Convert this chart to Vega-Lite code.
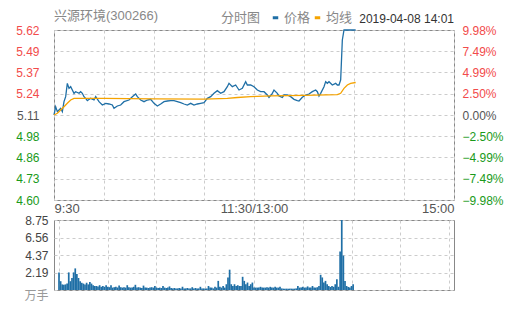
{
  "$schema": "https://vega.github.io/schema/vega-lite/v6.json",
  "background": "white",
  "padding": {"left": 15, "top": 10, "right": 2, "bottom": 2},
  "title": {"text": "兴源环境(300266)", "anchor": "start", "frame": "group", "fontSize": 13, "fontWeight": "normal", "color": "#888888", "font": "Liberation Sans, Noto Sans CJK SC", "dy": 16},
  "config": {
    "font": "Liberation Sans, Noto Sans CJK SC",
    "view": {"stroke": "#888888", "strokeWidth": 1},
    "axis": {"domain": false, "ticks": false, "gridColor": "#cccccc", "gridDash": [3, 3], "labelFont": "Liberation Sans, Noto Sans CJK SC", "labelFontSize": 12, "title": null}
  },
  "datasets": {
    "price": [
      {"m":0,"p":5.11},{"m":1,"p":5.16},{"m":2,"p":5.13},{"m":3,"p":5.14},{"m":4,"p":5.15},{"m":5,"p":5.13},{"m":6,"p":5.19},{"m":7,"p":5.22},{"m":8,"p":5.30},{"m":9,"p":5.27},{"m":10,"p":5.28},{"m":11,"p":5.26},{"m":12,"p":5.24},{"m":13,"p":5.25},{"m":14,"p":5.245},{"m":15,"p":5.24},{"m":16,"p":5.25},{"m":17,"p":5.24},{"m":18,"p":5.22},{"m":19,"p":5.21},{"m":20,"p":5.196},{"m":22,"p":5.21},{"m":24,"p":5.20},{"m":25,"p":5.22},{"m":27,"p":5.19},{"m":29,"p":5.17},{"m":31,"p":5.18},{"m":33,"p":5.176},{"m":35,"p":5.17},{"m":36,"p":5.15},{"m":38,"p":5.164},{"m":40,"p":5.17},{"m":42,"p":5.19},{"m":45,"p":5.20},{"m":47,"p":5.22},{"m":49,"p":5.236},{"m":50,"p":5.22},{"m":52,"p":5.20},{"m":54,"p":5.19},{"m":56,"p":5.20},{"m":58,"p":5.204},{"m":60,"p":5.18},{"m":62,"p":5.164},{"m":64,"p":5.176},{"m":66,"p":5.19},{"m":68,"p":5.194},{"m":70,"p":5.196},{"m":72,"p":5.196},{"m":74,"p":5.19},{"m":76,"p":5.184},{"m":78,"p":5.176},{"m":80,"p":5.17},{"m":82,"p":5.18},{"m":84,"p":5.17},{"m":86,"p":5.176},{"m":88,"p":5.18},{"m":90,"p":5.184},{"m":92,"p":5.21},{"m":94,"p":5.22},{"m":96,"p":5.24},{"m":98,"p":5.256},{"m":100,"p":5.24},{"m":102,"p":5.25},{"m":104,"p":5.28},{"m":105,"p":5.30},{"m":107,"p":5.28},{"m":109,"p":5.29},{"m":111,"p":5.26},{"m":113,"p":5.27},{"m":115,"p":5.31},{"m":116,"p":5.29},{"m":118,"p":5.29},{"m":120,"p":5.28},{"m":122,"p":5.26},{"m":124,"p":5.25},{"m":126,"p":5.25},{"m":128,"p":5.23},{"m":129,"p":5.216},{"m":131,"p":5.24},{"m":132,"p":5.26},{"m":134,"p":5.24},{"m":135,"p":5.224},{"m":137,"p":5.216},{"m":138,"p":5.23},{"m":140,"p":5.23},{"m":142,"p":5.22},{"m":144,"p":5.204},{"m":146,"p":5.196},{"m":147,"p":5.194},{"m":149,"p":5.216},{"m":151,"p":5.23},{"m":153,"p":5.236},{"m":155,"p":5.25},{"m":157,"p":5.26},{"m":158,"p":5.25},{"m":159,"p":5.224},{"m":160,"p":5.24},{"m":162,"p":5.28},{"m":163,"p":5.31},{"m":164,"p":5.30},{"m":165,"p":5.31},{"m":167,"p":5.29},{"m":169,"p":5.30},{"m":170,"p":5.29},{"m":171,"p":5.29},{"m":172,"p":5.32},{"m":173,"p":5.56},{"m":174,"p":5.62},{"m":181,"p":5.62}
    ],
    "avg": [
      {"m":0,"a":5.11},{"m":2,"a":5.12},{"m":4,"a":5.14},{"m":6,"a":5.16},{"m":8,"a":5.18},{"m":10,"a":5.20},{"m":12,"a":5.21},{"m":30,"a":5.21},{"m":60,"a":5.207},{"m":90,"a":5.205},{"m":104,"a":5.21},{"m":110,"a":5.215},{"m":118,"a":5.22},{"m":130,"a":5.225},{"m":150,"a":5.228},{"m":170,"a":5.232},{"m":172,"a":5.24},{"m":174,"a":5.27},{"m":176,"a":5.29},{"m":178,"a":5.30},{"m":181,"a":5.305}
    ],
    "vol": [
      {"m":0,"v":2.2},{"m":1,"v":1.1},{"m":2,"v":0.7},{"m":3,"v":0.65},{"m":4,"v":0.7},{"m":5,"v":0.8},{"m":6,"v":2.2},{"m":7,"v":1.1},{"m":8,"v":1.5},{"m":9,"v":2.2},{"m":10,"v":2.7},{"m":11,"v":2.0},{"m":12,"v":1.5},{"m":13,"v":1.1},{"m":14,"v":0.9},{"m":15,"v":0.8},{"m":16,"v":0.7},{"m":17,"v":0.9},{"m":18,"v":0.7},{"m":19,"v":1.0},{"m":20,"v":0.8},{"m":21,"v":0.6},{"m":22,"v":0.5},{"m":23,"v":0.5},{"m":24,"v":0.45},{"m":25,"v":0.6},{"m":26,"v":0.4},{"m":27,"v":0.5},{"m":28,"v":0.4},{"m":29,"v":0.6},{"m":30,"v":0.4},
      {"m":31,"v":0.35},{"m":32,"v":0.6},{"m":33,"v":0.3},{"m":34,"v":0.35},{"m":35,"v":0.4},{"m":36,"v":0.3},{"m":37,"v":0.55},{"m":38,"v":0.35},{"m":39,"v":0.3},{"m":40,"v":0.35},{"m":41,"v":0.3},{"m":42,"v":0.6},{"m":43,"v":0.35},{"m":44,"v":0.3},{"m":45,"v":0.3},{"m":46,"v":0.4},{"m":47,"v":0.65},{"m":48,"v":0.3},{"m":49,"v":0.35},{"m":50,"v":0.3},{"m":51,"v":0.25},{"m":52,"v":0.55},{"m":53,"v":0.3},{"m":54,"v":0.3},{"m":55,"v":0.25},{"m":56,"v":0.3},{"m":57,"v":0.35},{"m":58,"v":0.3},{"m":59,"v":0.5},{"m":60,"v":0.3},{"m":61,"v":0.25},{"m":62,"v":0.3},{"m":63,"v":0.25},{"m":64,"v":0.5},{"m":65,"v":0.3},{"m":66,"v":0.25},{"m":67,"v":0.3},{"m":68,"v":0.45},{"m":69,"v":0.25},{"m":70,"v":0.2},{"m":71,"v":0.25},{"m":72,"v":0.2},{"m":73,"v":0.2},{"m":74,"v":0.25},{"m":75,"v":0.2},{"m":76,"v":0.4},{"m":77,"v":0.2},{"m":78,"v":0.2},{"m":79,"v":0.25},{"m":80,"v":0.2},{"m":81,"v":0.2},{"m":82,"v":0.35},{"m":83,"v":0.2},{"m":84,"v":0.25},{"m":85,"v":0.2},{"m":86,"v":0.2},{"m":87,"v":0.4},{"m":88,"v":0.2},{"m":89,"v":0.2},
      {"m":90,"v":0.17},{"m":91,"v":0.2},{"m":92,"v":0.5},{"m":93,"v":0.3},{"m":94,"v":0.3},{"m":95,"v":0.2},{"m":96,"v":0.4},{"m":97,"v":0.3},{"m":98,"v":1.14},{"m":99,"v":0.4},{"m":100,"v":0.3},{"m":101,"v":0.5},{"m":102,"v":0.3},{"m":103,"v":0.72},{"m":104,"v":1.57},{"m":105,"v":2.54},{"m":106,"v":0.72},{"m":107,"v":0.5},{"m":108,"v":0.72},{"m":109,"v":0.5},{"m":110,"v":0.6},{"m":111,"v":0.5},{"m":112,"v":0.5},{"m":113,"v":1.65},{"m":114,"v":1.14},{"m":115,"v":0.72},{"m":116,"v":0.93},{"m":117,"v":0.5},{"m":118,"v":0.72},{"m":119,"v":0.93},{"m":120,"v":0.3},
      {"m":121,"v":0.3},{"m":122,"v":0.3},{"m":123,"v":0.3},{"m":124,"v":0.4},{"m":125,"v":0.3},{"m":126,"v":0.3},{"m":127,"v":0.3},{"m":128,"v":0.35},{"m":129,"v":0.3},{"m":130,"v":0.4},{"m":131,"v":0.3},{"m":132,"v":0.3},{"m":133,"v":0.4},{"m":134,"v":0.3},{"m":135,"v":0.3},{"m":136,"v":0.4},{"m":137,"v":0.2},{"m":138,"v":0.17},{"m":139,"v":0.17},{"m":140,"v":0.17},{"m":141,"v":0.17},{"m":142,"v":0.17},{"m":143,"v":0.17},{"m":144,"v":0.17},{"m":145,"v":0.17},{"m":146,"v":0.2},{"m":147,"v":0.5},{"m":148,"v":0.3},{"m":149,"v":0.3},{"m":150,"v":0.4},{"m":151,"v":0.3},{"m":152,"v":0.3},{"m":153,"v":0.45},{"m":154,"v":0.3},{"m":155,"v":0.3},{"m":156,"v":0.5},{"m":157,"v":0.3},{"m":158,"v":0.3},{"m":159,"v":0.35},{"m":160,"v":0.5},{"m":161,"v":1.9},{"m":162,"v":1.57},{"m":163,"v":0.93},{"m":164,"v":1.14},{"m":165,"v":0.72},{"m":166,"v":0.5},{"m":167,"v":0.38},{"m":168,"v":0.5},{"m":169,"v":0.4},{"m":170,"v":0.72},{"m":171,"v":1.35},{"m":172,"v":0.4},{"m":173,"v":4.8},{"m":174,"v":8.75},{"m":175,"v":4.3},{"m":176,"v":1.14},{"m":177,"v":0.5},{"m":178,"v":0.38},{"m":179,"v":0.3},{"m":180,"v":0.5},{"m":181,"v":0.72}
    ]
  },
  "vconcat": [
    {
      "width": 400,
      "height": 170,
      "title": {"text": "2019-04-08 14:01", "anchor": "end", "frame": "group", "fontSize": 12, "fontWeight": "normal", "color": "#333333", "offset": -2},
      "layer": [
        {
          "data": {"name": "price"},
          "mark": {"type": "line", "strokeWidth": 1.3},
          "encoding": {
            "x": {"field": "m", "type": "quantitative", "scale": {"domain": [0, 240], "nice": false, "zero": false},
              "axis": {"values": [0, 30, 60, 90, 120, 150, 180, 210, 240], "grid": true, "labelFlush": true, "labelPadding": 2, "labelColor": "#555555", "labelFontSize": 13,
                "labelExpr": "datum.value == 0 ? '9:30' : datum.value == 120 ? '11:30/13:00' : datum.value == 240 ? '15:00' : ''"}},
            "y": {"field": "p", "type": "quantitative", "scale": {"domain": [4.6, 5.62], "nice": false, "zero": false},
              "axis": {"orient": "left", "values": [4.6, 4.7275, 4.855, 4.9825, 5.11, 5.2375, 5.365, 5.4925, 5.62], "grid": true, "labelPadding": 15,
                "labelExpr": "format(datum.value + 0.0001, '.2f')",
                "labelColor": {"condition": [{"test": "datum.value > 5.111", "value": "#f24b4b"}, {"test": "datum.value < 5.109", "value": "#1a9a1a"}], "value": "#555555"}}},
            "color": {"datum": "价格", "type": "nominal", "scale": {"domain": ["价格", "均线"], "range": ["#1f6fa6", "#f5a300"]},
              "legend": {"orient": "none", "legendX": 167, "legendY": -19, "direction": "horizontal", "title": "分时图", "titleOrient": "left", "titleFontSize": 13, "titleFontWeight": "normal", "titleColor": "#888888", "labelFontSize": 13, "labelColor": "#888888", "symbolType": "stroke", "symbolStrokeWidth": 3, "symbolSize": 30, "columnPadding": -3, "titlePadding": 8, "labelOffset": 2}}
          }
        },
        {
          "data": {"name": "avg"},
          "mark": {"type": "line", "strokeWidth": 1.3},
          "encoding": {
            "x": {"field": "m", "type": "quantitative", "scale": {"domain": [0, 240], "nice": false, "zero": false},
              "axis": {"values": [0, 30, 60, 90, 120, 150, 180, 210, 240], "grid": true, "labelFlush": true, "labelPadding": 2, "labelColor": "#555555", "labelFontSize": 13,
                "labelExpr": "datum.value == 0 ? '9:30' : datum.value == 120 ? '11:30/13:00' : datum.value == 240 ? '15:00' : ''"}},
            "y": {"field": "a", "type": "quantitative", "scale": {"domain": [4.6, 5.62], "nice": false, "zero": false},
              "axis": {"orient": "right", "values": [4.6, 4.7275, 4.855, 4.9825, 5.11, 5.2375, 5.365, 5.4925, 5.62], "grid": false, "labelPadding": 8,
                "labelExpr": "format((datum.value - 5.11) / 5.11 * 100, '.2f') + '%'",
                "labelColor": {"condition": [{"test": "datum.value > 5.111", "value": "#f24b4b"}, {"test": "datum.value < 5.109", "value": "#1a9a1a"}], "value": "#555555"}}},
            "color": {"datum": "均线", "type": "nominal"}
          }
        }
      ],
      "resolve": {"axis": {"y": "independent"}}
    },
    {
      "width": 400,
      "height": 70,
      "data": {"name": "vol"},
      "mark": {"type": "bar", "size": 1.7, "color": "#1f6fa6"},
      "encoding": {
        "x": {"field": "m", "type": "quantitative", "scale": {"domain": [0, 240], "nice": false, "zero": false},
          "axis": {"values": [0, 30, 60, 90, 120, 150, 180, 210, 240], "grid": true, "labels": false}},
        "y": {"field": "v", "type": "quantitative", "scale": {"domain": [0, 8.75], "nice": false},
          "axis": {"values": [0, 2.1875, 4.375, 6.5625, 8.75], "grid": true, "labelPadding": 6,
            "labelExpr": "datum.value == 0 ? '万手' : datum.value > 8 ? '8.75' : datum.value > 6 ? '6.56' : datum.value > 4 ? '4.37' : '2.19'",
            "labelColor": {"condition": {"test": "datum.value == 0", "value": "#999999"}, "value": "#444444"},
            "labelBaseline": {"condition": {"test": "datum.value == 0", "value": "top"}, "value": "middle"}}}
      }
    }
  ],
  "spacing": 20,
  "bounds": "flush"
}
